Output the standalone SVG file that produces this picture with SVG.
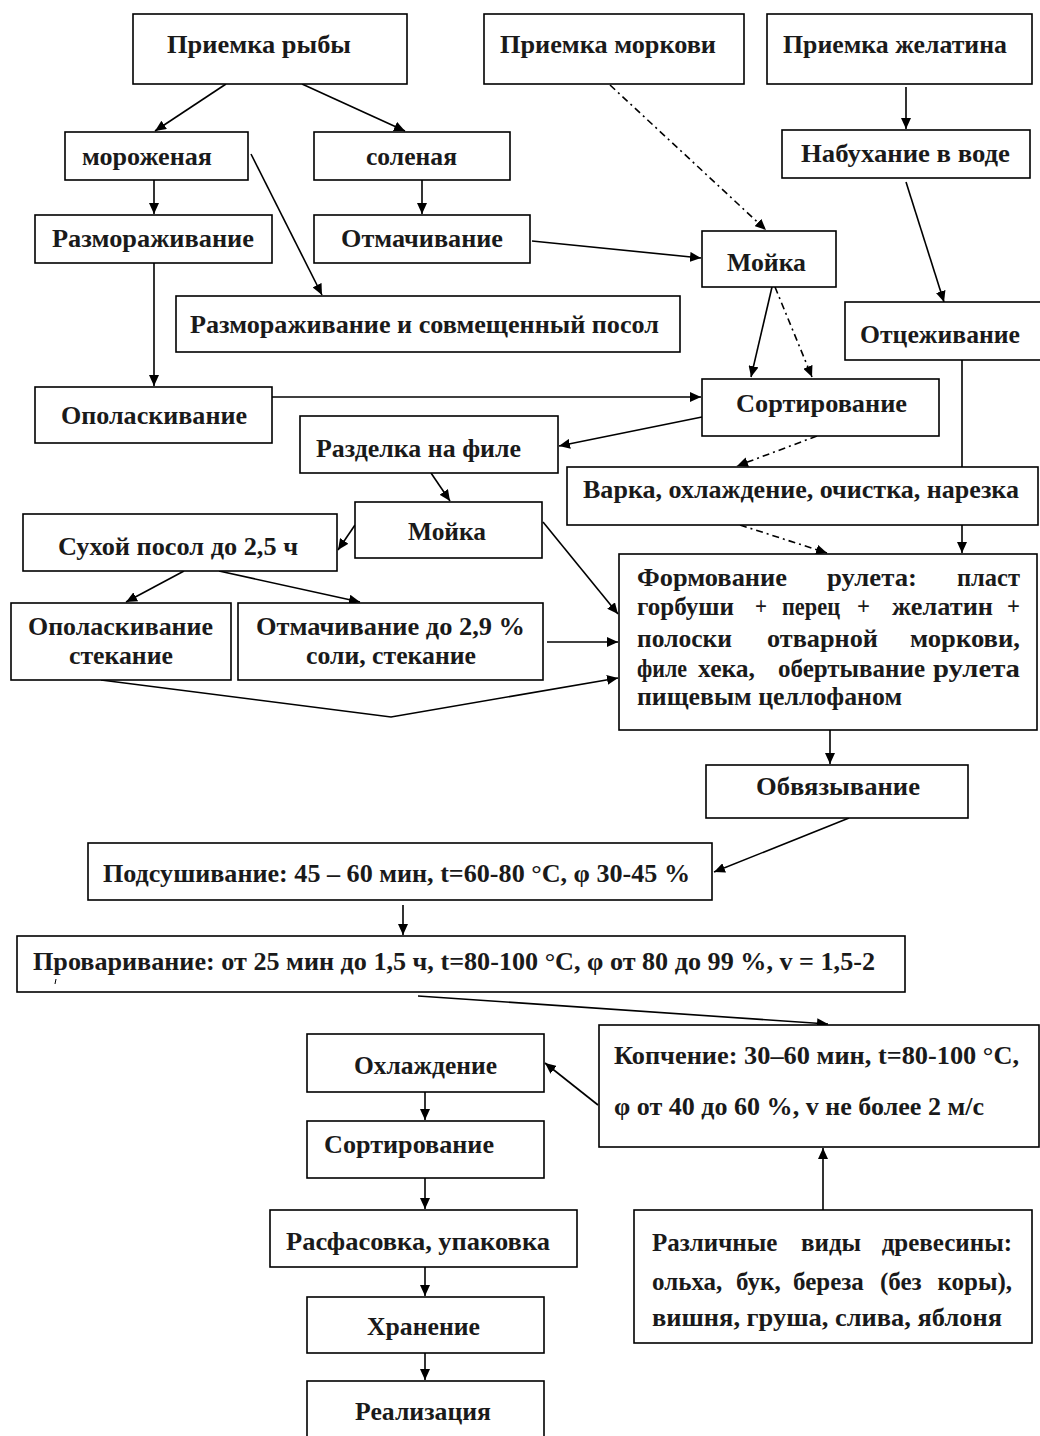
<svg xmlns="http://www.w3.org/2000/svg" width="1040" height="1436" viewBox="0 0 1040 1436">
<style>
rect.b{fill:#fff;stroke:#000;stroke-width:1.6}
text{font-family:"Liberation Serif","Times New Roman",serif;font-weight:bold;font-size:25px;fill:#1a1a1a}
.c line,.c polyline,.c path{stroke:#000;stroke-width:1.6;fill:none}
.c .a{marker-end:url(#ah)}
.c .d{stroke-dasharray:7 4 2 4}
</style>
<defs>
<marker id="ah" markerUnits="userSpaceOnUse" markerWidth="12" markerHeight="10" refX="11" refY="5" orient="auto"><path d="M0,0 L11,5 L0,10 z" fill="#000"/></marker>
</defs>
<rect width="1040" height="1436" fill="#fff"/>
<g class="c" id="connectors">
<line class="a" x1="226" y1="84" x2="155" y2="131"/>
<line class="a" x1="302" y1="84" x2="405" y2="131"/>
<line class="a" x1="154" y1="180" x2="154" y2="214"/>
<line class="a" x1="422" y1="180" x2="422" y2="214"/>
<line class="a" x1="251" y1="154" x2="322" y2="295"/>
<line class="a" x1="154" y1="263" x2="154" y2="386"/>
<line class="a" x1="532" y1="241" x2="701" y2="258"/>
<line class="a d" x1="610" y1="85" x2="766" y2="230"/>
<line class="a" x1="906" y1="87" x2="906" y2="129"/>
<line class="a" x1="906" y1="182" x2="944" y2="302"/>
<line class="a" x1="772" y1="287" x2="751" y2="377"/>
<line class="a d" x1="775" y1="287" x2="812" y2="377"/>
<line class="a" x1="272" y1="397" x2="701" y2="397"/>
<line class="a" x1="702" y1="417" x2="559" y2="446"/>
<line class="a d" x1="817" y1="436" x2="737" y2="466"/>
<line x1="962" y1="360" x2="962" y2="467"/>
<line class="a" x1="962" y1="525" x2="962" y2="553"/>
<line class="a d" x1="740" y1="525" x2="827" y2="553"/>
<line class="a" x1="431" y1="473" x2="450" y2="501"/>
<line class="a" x1="355" y1="525" x2="338" y2="550"/>
<line class="a" x1="184" y1="571" x2="126" y2="602"/>
<line class="a" x1="219" y1="571" x2="360" y2="602"/>
<line class="a" x1="543" y1="522" x2="618" y2="614"/>
<line class="a" x1="547" y1="642" x2="618" y2="642"/>
<polyline class="a" points="101,680 391,717 618,678"/>
<line class="a" x1="830" y1="730" x2="830" y2="764"/>
<line class="a" x1="849" y1="818" x2="714" y2="872"/>
<line class="a" x1="403" y1="905" x2="403" y2="935"/>
<line class="a" x1="418" y1="996" x2="828" y2="1024"/>
<line class="a" x1="598" y1="1105" x2="545" y2="1063"/>
<line class="a" x1="425" y1="1092" x2="425" y2="1120"/>
<line class="a" x1="425" y1="1178" x2="425" y2="1209"/>
<line class="a" x1="425" y1="1267" x2="425" y2="1296"/>
<line class="a" x1="425" y1="1353" x2="425" y2="1380"/>
<line class="a" x1="823" y1="1210" x2="823" y2="1148"/>
</g>
<g id="n1"><rect class="b" x="133" y="14" width="274" height="70"/><text x="167" y="53" textLength="184" lengthAdjust="spacingAndGlyphs">Приемка рыбы</text></g>
<g id="n2"><rect class="b" x="484" y="14" width="260" height="70"/><text x="500" y="53" textLength="216" lengthAdjust="spacingAndGlyphs">Приемка моркови</text></g>
<g id="n3"><rect class="b" x="767" y="14" width="265" height="70"/><text x="783" y="53" textLength="224" lengthAdjust="spacingAndGlyphs">Приемка желатина</text></g>
<g id="n4"><rect class="b" x="65" y="132" width="183" height="48"/><text x="82" y="165" textLength="130" lengthAdjust="spacingAndGlyphs">мороженая</text></g>
<g id="n5"><rect class="b" x="314" y="132" width="196" height="48"/><text x="366" y="165" textLength="91" lengthAdjust="spacingAndGlyphs">соленая</text></g>
<g id="n6"><rect class="b" x="782" y="130" width="248" height="48"/><text x="801" y="162" textLength="209" lengthAdjust="spacingAndGlyphs">Набухание в воде</text></g>
<g id="n7"><rect class="b" x="35" y="215" width="237" height="48"/><text x="52" y="247" textLength="202" lengthAdjust="spacingAndGlyphs">Размораживание</text></g>
<g id="n8"><rect class="b" x="314" y="215" width="216" height="48"/><text x="341" y="247" textLength="162" lengthAdjust="spacingAndGlyphs">Отмачивание</text></g>
<g id="n9"><rect class="b" x="702" y="231" width="134" height="56"/><text x="727" y="271" textLength="79" lengthAdjust="spacingAndGlyphs">Мойка</text></g>
<g id="n10"><rect class="b" x="176" y="296" width="504" height="56"/><text x="190" y="333" textLength="469" lengthAdjust="spacingAndGlyphs">Размораживание и совмещенный посол</text></g>
<g id="n11"><rect class="b" x="845" y="302" width="200" height="58"/><text x="860" y="343" textLength="160" lengthAdjust="spacingAndGlyphs">Отцеживание</text></g>
<g id="n12"><rect class="b" x="35" y="387" width="237" height="56"/><text x="61" y="424" textLength="186" lengthAdjust="spacingAndGlyphs">Ополаскивание</text></g>
<g id="n13"><rect class="b" x="702" y="379" width="237" height="57"/><text x="736" y="412" textLength="171" lengthAdjust="spacingAndGlyphs">Сортирование</text></g>
<g id="n14"><rect class="b" x="300" y="416" width="258" height="57"/><text x="316" y="457" textLength="205" lengthAdjust="spacingAndGlyphs">Разделка на филе</text></g>
<g id="n15"><rect class="b" x="567" y="467" width="471" height="58"/><text x="583" y="498" textLength="436" lengthAdjust="spacingAndGlyphs">Варка, охлаждение, очистка, нарезка</text></g>
<g id="n16"><rect class="b" x="355" y="502" width="187" height="56"/><text x="408" y="540" textLength="78" lengthAdjust="spacingAndGlyphs">Мойка</text></g>
<g id="n17"><rect class="b" x="23" y="514" width="314" height="57"/><text x="58" y="555" textLength="240" lengthAdjust="spacingAndGlyphs">Сухой посол до 2,5 ч</text></g>
<g id="n18"><rect class="b" x="11" y="603" width="220" height="77"/><text x="28" y="635" textLength="185" lengthAdjust="spacingAndGlyphs">Ополаскивание</text><text x="69" y="664" textLength="104" lengthAdjust="spacingAndGlyphs">стекание</text></g>
<g id="n19"><rect class="b" x="238" y="603" width="305" height="77"/><text x="256" y="635" textLength="269" lengthAdjust="spacingAndGlyphs">Отмачивание до 2,9 %</text><text x="306" y="664" textLength="170" lengthAdjust="spacingAndGlyphs">соли, стекание</text></g>
<g id="n20"><rect class="b" x="619" y="554" width="418" height="176"/>
<text x="637" y="586" textLength="150" lengthAdjust="spacingAndGlyphs">Формование</text>
<text x="827" y="586" textLength="90" lengthAdjust="spacingAndGlyphs">рулета:</text>
<text x="957" y="586" textLength="63" lengthAdjust="spacingAndGlyphs">пласт</text>
<text x="637" y="615" textLength="97" lengthAdjust="spacingAndGlyphs">горбуши</text>
<text x="755" y="615" textLength="12" lengthAdjust="spacingAndGlyphs">+</text>
<text x="782" y="615" textLength="58" lengthAdjust="spacingAndGlyphs">перец</text>
<text x="857" y="615" textLength="13" lengthAdjust="spacingAndGlyphs">+</text>
<text x="892" y="615" textLength="101" lengthAdjust="spacingAndGlyphs">желатин</text>
<text x="1007" y="615" textLength="13" lengthAdjust="spacingAndGlyphs">+</text>
<text x="637" y="647" textLength="95" lengthAdjust="spacingAndGlyphs">полоски</text>
<text x="767" y="647" textLength="111" lengthAdjust="spacingAndGlyphs">отварной</text>
<text x="910" y="647" textLength="110" lengthAdjust="spacingAndGlyphs">моркови,</text>
<text x="637" y="677" textLength="50" lengthAdjust="spacingAndGlyphs">филе</text>
<text x="698" y="677" textLength="57" lengthAdjust="spacingAndGlyphs">хека,</text>
<text x="778" y="677" textLength="147" lengthAdjust="spacingAndGlyphs">обертывание</text>
<text x="933" y="677" textLength="87" lengthAdjust="spacingAndGlyphs">рулета</text>
<text x="637" y="705" textLength="265" lengthAdjust="spacingAndGlyphs">пищевым целлофаном</text></g>
<g id="n21"><rect class="b" x="706" y="765" width="262" height="53"/><text x="756" y="795" textLength="164" lengthAdjust="spacingAndGlyphs">Обвязывание</text></g>
<g id="n22"><rect class="b" x="88" y="843" width="624" height="57"/><text x="103" y="882" textLength="587" lengthAdjust="spacingAndGlyphs">Подсушивание: 45 – 60 мин, t=60-80 °С, φ 30-45 %</text></g>
<g id="n23"><rect class="b" x="17" y="936" width="888" height="56"/><text x="33" y="970" textLength="842" lengthAdjust="spacingAndGlyphs">Проваривание: от 25 мин до 1,5 ч,  t=80-100 °С, φ от 80 до 99 %, v = 1,5-2</text><path d="M56,979 L55,984" stroke="#000" stroke-width="1"/></g>
<g id="n24"><rect class="b" x="599" y="1025" width="440" height="122"/><text x="614" y="1064" textLength="405" lengthAdjust="spacingAndGlyphs">Копчение: 30–60 мин, t=80-100 °С,</text><text x="614" y="1115" textLength="370" lengthAdjust="spacingAndGlyphs">φ от 40 до 60 %, v не более 2 м/с</text></g>
<g id="n25"><rect class="b" x="307" y="1034" width="237" height="58"/><text x="354" y="1074" textLength="143" lengthAdjust="spacingAndGlyphs">Охлаждение</text></g>
<g id="n26"><rect class="b" x="307" y="1121" width="237" height="57"/><text x="324" y="1153" textLength="170" lengthAdjust="spacingAndGlyphs">Сортирование</text></g>
<g id="n27"><rect class="b" x="270" y="1210" width="307" height="57"/><text x="286" y="1250" textLength="264" lengthAdjust="spacingAndGlyphs">Расфасовка, упаковка</text></g>
<g id="n28"><rect class="b" x="307" y="1297" width="237" height="56"/><text x="367" y="1335" textLength="113" lengthAdjust="spacingAndGlyphs">Хранение</text></g>
<g id="n29"><rect class="b" x="307" y="1381" width="237" height="62"/><text x="355" y="1420" textLength="136" lengthAdjust="spacingAndGlyphs">Реализация</text></g>
<g id="n30"><rect class="b" x="634" y="1210" width="398" height="133"/>
<text x="652" y="1251">Различные</text>
<text x="801" y="1251">виды</text>
<text x="1012" y="1251" text-anchor="end">древесины:</text>
<text x="652" y="1290">ольха,</text>
<text x="736" y="1290">бук,</text>
<text x="793" y="1290">береза</text>
<text x="880" y="1290">(без</text>
<text x="1012" y="1290" text-anchor="end">коры),</text>
<text x="652" y="1326" textLength="350" lengthAdjust="spacingAndGlyphs">вишня, груша, слива, яблоня</text></g>
</svg>
